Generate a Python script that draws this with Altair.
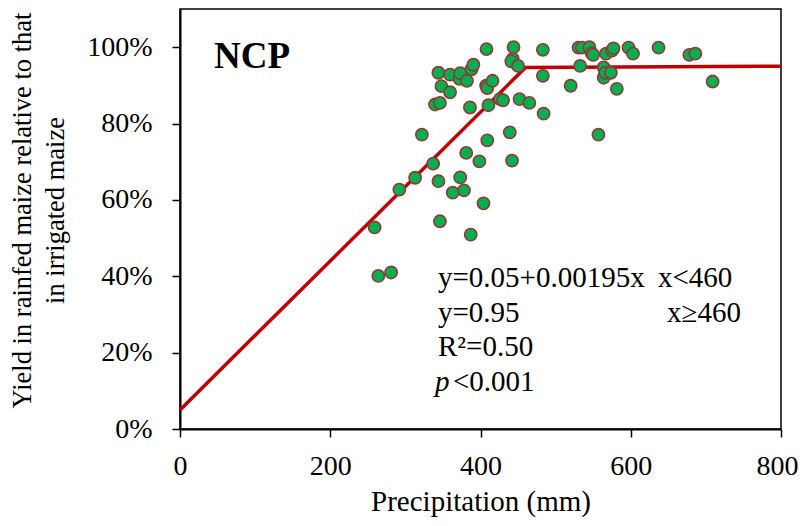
import altair as alt
import pandas as pd

FONT = "'Times New Roman', 'Liberation Serif', Tinos, serif"

# Observations: precipitation (mm) and relative yield (fraction)
precip = [259, 264, 281, 292, 313, 322, 337, 339.5, 344, 344, 346, 346, 348,
          359.5, 359.5, 363, 372, 373, 373, 378, 381, 382, 386, 387, 388, 390.5,
          398.5, 404, 408, 407.5, 409, 409, 410.5, 416, 426, 430, 439, 442, 443,
          441, 444, 450, 452, 465, 483, 483, 484, 520, 530.5, 535, 532.6, 545,
          548, 550, 557, 564, 564, 566, 567, 573.5, 575, 577, 581.5, 597, 603,
          637, 678, 686, 709]
ratio = [0.528, 0.401, 0.410, 0.627, 0.658, 0.771, 0.695, 0.850, 0.933, 0.649,
         0.854, 0.544, 0.898, 0.928, 0.882, 0.619, 0.917, 0.932, 0.659, 0.625,
         0.723, 0.912, 0.842, 0.509, 0.942, 0.954, 0.701, 0.591, 0.995, 0.899,
         0.893, 0.756, 0.848, 0.912, 0.864, 0.861, 0.777, 0.703, 0.969, 0.963,
         1.000, 0.951, 0.864, 0.854, 0.993, 0.925, 0.826, 0.899, 0.999, 0.999,
         0.951, 1.000, 0.984, 0.980, 0.771, 0.947, 0.920, 0.933, 0.983, 0.933,
         0.991, 0.997, 0.891, 0.999, 0.983, 0.999, 0.980, 0.983, 0.910]

# Fitted piecewise-linear model
fit_x = [0, 460, 800]
fit_y = [0.05, 0.947, 0.95]

x_ticks = [0, 200, 400, 600, 800]
y_ticks = [0, 0.2, 0.4, 0.6, 0.8, 1.0]

pts = pd.DataFrame({"precip": precip, "ratio": ratio})
fit = pd.DataFrame({"precip": fit_x, "ratio": fit_y})

xs = alt.Scale(domain=[0, 800], nice=False, zero=False)
ys = alt.Scale(domain=[0, 1.1], nice=False, zero=False)

xax = alt.Axis(values=x_ticks, title="Precipitation (mm)", labelPadding=15,
               titlePadding=7, grid=False, labelFlush=False, titleFontSize=29,
               labelOffset={"condition": {"test": "datum.value == 800", "value": -4},
                            "value": 0})
yax = alt.Axis(values=y_ticks, format=".0%",
               title=["Yield in rainfed maize relative to that", "in irrigated maize"],
               labelPadding=20, titlePadding=17, grid=False, titleLineHeight=33,
               titleFontSize=26.5, titleY=201, labelFlush=False)

line = alt.Chart(fit).mark_line(color="#C00000", strokeWidth=3.5).encode(
    x=alt.X("precip:Q", scale=xs, axis=xax),
    y=alt.Y("ratio:Q", scale=ys, axis=yax),
)

points = alt.Chart(pts).mark_circle(
    size=150, color="#00B050", stroke="#953735", strokeWidth=1.6, opacity=1
).encode(x=alt.X("precip:Q", scale=xs), y=alt.Y("ratio:Q", scale=ys))


def label(txt, x, y, size=29, style="normal", weight="normal"):
    return alt.Chart(pd.DataFrame({"t": [txt]})).mark_text(
        align="left", baseline="alphabetic", fontSize=size, fontStyle=style,
        fontWeight=weight, font=FONT, color="black"
    ).encode(x=alt.value(x), y=alt.value(y), text="t:N")


texts = [
    label("NCP", 34, 59, size=37, weight="bold"),
    label("y=0.05+0.00195x", 258, 278),
    label("x<460", 478, 278),
    label("y=0.95", 258, 312.5),
    label("x\u2265460", 487, 312.5),
    label("R\u00b2=0.50", 258, 347),
    label("p", 255, 381.5, style="italic"),
    label("<0.001", 273, 381.5),
]

chart = alt.layer(line, points, *texts).properties(
    width=601, height=420,
    autosize=alt.AutoSizeParams(type="none"),
    padding={"left": 172, "top": 1, "right": 18, "bottom": 89},
).configure(font=FONT, background="white").configure_view(
    stroke="black", strokeWidth=1.5
).configure_axis(
    labelFont=FONT, titleFont=FONT, labelFontSize=28, titleFontSize=28,
    labelColor="black", titleColor="black", titleFontWeight="normal",
    domainColor="black", domainWidth=2, tickColor="black", tickWidth=1.5,
    tickSize=8,
)

chart.save("out.html", embed_options={"renderer": "svg", "actions": False})
